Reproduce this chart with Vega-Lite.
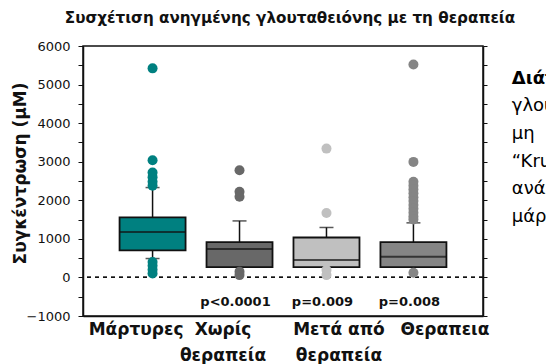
{
  "$schema": "https://vega.github.io/schema/vega-lite/v6.json",
  "autosize": {"type": "none"},
  "padding": {"left": 83, "top": 46, "right": 63, "bottom": 48},
  "width": 400,
  "height": 270,
  "background": "white",
  "config": {
    "font": "Liberation Sans",
    "view": {"stroke": "#111111", "strokeWidth": 1.5},
    "axis": {"domainColor": "#111111", "domainWidth": 1.5, "tickColor": "#111111", "grid": false, "labelColor": "#111111", "titleColor": "#111111"}
  },
  "title": {
    "text": "Συσχέτιση ανηγμένης γλουταθειόνης  με τη θεραπεία",
    "font": "DejaVu Sans",
    "fontSize": 15.2,
    "fontWeight": "bold",
    "color": "#111111",
    "anchor": "middle",
    "dx": 7,
    "offset": 14
  },
  "datasets": {
    "boxes": [
      {"group": "Μάρτυρες", "lower": 490, "q1": 700, "median": 1180, "q3": 1555, "upper": 2330, "p": ""},
      {"group": "Χωρίς θεραπεία", "lower": 265, "q1": 265, "median": 740, "q3": 915, "upper": 1465, "p": "p<0.0001"},
      {"group": "Μετά από θεραπεία", "lower": 265, "q1": 265, "median": 450, "q3": 1035, "upper": 1295, "p": "p=0.009"},
      {"group": "Θεραπεια", "lower": 265, "q1": 265, "median": 535, "q3": 915, "upper": 1415, "p": "p=0.008"}
    ],
    "outliers": [
      {"group": "Μάρτυρες", "value": 5420},
      {"group": "Μάρτυρες", "value": 3040},
      {"group": "Μάρτυρες", "value": 2720},
      {"group": "Μάρτυρες", "value": 2600},
      {"group": "Μάρτυρες", "value": 2480},
      {"group": "Μάρτυρες", "value": 2380},
      {"group": "Μάρτυρες", "value": 400},
      {"group": "Μάρτυρες", "value": 300},
      {"group": "Μάρτυρες", "value": 200},
      {"group": "Μάρτυρες", "value": 100},
      {"group": "Χωρίς θεραπεία", "value": 2780},
      {"group": "Χωρίς θεραπεία", "value": 2220},
      {"group": "Χωρίς θεραπεία", "value": 2090},
      {"group": "Χωρίς θεραπεία", "value": 150},
      {"group": "Χωρίς θεραπεία", "value": 60},
      {"group": "Μετά από θεραπεία", "value": 3340},
      {"group": "Μετά από θεραπεία", "value": 1670},
      {"group": "Μετά από θεραπεία", "value": 190},
      {"group": "Μετά από θεραπεία", "value": 60},
      {"group": "Θεραπεια", "value": 5520},
      {"group": "Θεραπεια", "value": 2995},
      {"group": "Θεραπεια", "value": 2480},
      {"group": "Θεραπεια", "value": 2380},
      {"group": "Θεραπεια", "value": 2280},
      {"group": "Θεραπεια", "value": 2180},
      {"group": "Θεραπεια", "value": 2080},
      {"group": "Θεραπεια", "value": 1980},
      {"group": "Θεραπεια", "value": 1880},
      {"group": "Θεραπεια", "value": 1780},
      {"group": "Θεραπεια", "value": 1680},
      {"group": "Θεραπεια", "value": 1580},
      {"group": "Θεραπεια", "value": 1500},
      {"group": "Θεραπεια", "value": 120}
    ],
    "notes": [
      {"line": 1, "text": "Διάγραμμα 2:"},
      {"line": 2, "text": "γλουταθειόνης"},
      {"line": 3, "text": "μη"},
      {"line": 4, "text": "“Kruskal-Wallis”"},
      {"line": 5, "text": "ανάλυση"},
      {"line": 6, "text": "μάρτυρες"}
    ]
  },
  "layer": [
    {
      "data": {"name": "boxes"},
      "layer": [
        {
          "mark": {"type": "rule", "color": "#111111", "strokeWidth": 1.5},
          "encoding": {
            "x": {"field": "group", "type": "nominal", "title": null,
              "scale": {"type": "point", "domain": ["Μάρτυρες", "Χωρίς θεραπεία", "Μετά από θεραπεία", "Θεραπεια"], "padding": 0.8},
              "axis": {
                "ticks": false,
                "labelAngle": 0,
                "labelFont": "DejaVu Sans",
                "labelFontSize": 17,
                "labelFontWeight": "bold",
                "labelLineHeight": 26,
                "labelPadding": 5,
                "labelBound": false,
                "labelOffset": {"condition": [
                  {"test": "datum.value == 'Μάρτυρες'", "value": -17},
                  {"test": "datum.value == 'Χωρίς θεραπεία'", "value": -17},
                  {"test": "datum.value == 'Μετά από θεραπεία'", "value": 12}
                ], "value": 31},
                "labelExpr": "datum.value == 'Χωρίς θεραπεία' ? ['Χωρίς', 'θεραπεία'] : datum.value == 'Μετά από θεραπεία' ? ['Μετά από', 'θεραπεία'] : datum.value"
              }
            },
            "y": {"field": "q3", "type": "quantitative", "axis": null,
              "scale": {"domain": [-1000, 6000], "nice": false, "zero": false}},
            "y2": {"field": "upper"}
          }
        },
        {
          "mark": {"type": "rule", "color": "#111111", "strokeDash": [4, 4], "strokeWidth": 1.2},
          "encoding": {
            "y": {"datum": 0, "type": "quantitative", "axis": null}
          }
        },
        {
          "mark": {"type": "rule", "color": "#111111", "strokeWidth": 1.5},
          "encoding": {
            "x": {"field": "group", "type": "nominal", "title": null},
            "y": {"field": "lower", "type": "quantitative", "axis": null},
            "y2": {"field": "q1"}
          }
        },
        {
          "mark": {"type": "tick", "color": "#111111", "size": 14, "thickness": 1.5},
          "encoding": {
            "x": {"field": "group", "type": "nominal", "title": null},
            "y": {"field": "upper", "type": "quantitative", "axis": null}
          }
        },
        {
          "mark": {"type": "tick", "color": "#111111", "size": 14, "thickness": 1.5},
          "encoding": {
            "x": {"field": "group", "type": "nominal", "title": null},
            "y": {"field": "lower", "type": "quantitative", "axis": null}
          }
        },
        {
          "mark": {"type": "bar", "size": 66, "stroke": "#111111", "strokeWidth": 1.8, "opacity": 1},
          "encoding": {
            "x": {"field": "group", "type": "nominal", "title": null},
            "y": {"field": "q1", "type": "quantitative", "axis": null},
            "y2": {"field": "q3"},
            "color": {"field": "group", "type": "nominal", "legend": null,
              "scale": {"domain": ["Μάρτυρες", "Χωρίς θεραπεία", "Μετά από θεραπεία", "Θεραπεια"], "range": ["#008080", "#686868", "#c0c0c0", "#858585"]}}
          }
        },
        {
          "mark": {"type": "tick", "color": "#111111", "size": 66, "thickness": 2},
          "encoding": {
            "x": {"field": "group", "type": "nominal", "title": null},
            "y": {"field": "median", "type": "quantitative", "axis": null}
          }
        },
        {
          "transform": [{"filter": "datum.p != ''"}],
          "mark": {"type": "text", "font": "DejaVu Sans", "fontSize": 13, "fontWeight": "bold", "color": "#111111", "baseline": "middle", "dx": -4},
          "encoding": {
            "x": {"field": "group", "type": "nominal", "title": null},
            "y": {"datum": -640, "type": "quantitative", "axis": null},
            "text": {"field": "p"}
          }
        },
        {
          "data": {"name": "outliers"},
          "mark": {"type": "point", "filled": true, "shape": "circle", "size": 100, "opacity": 1},
          "encoding": {
            "x": {"field": "group", "type": "nominal", "title": null},
            "y": {"field": "value", "type": "quantitative", "axis": null},
            "color": {"field": "group", "type": "nominal", "legend": null}
          }
        }
      ]
    },
    {
      "data": {"name": "boxes"},
      "mark": {"type": "tick", "opacity": 0},
      "encoding": {
        "y": {"field": "median", "type": "quantitative", "title": "Συγκέντρωση (μΜ)",
          "scale": {"domain": [-1000, 6000], "nice": false, "zero": false},
          "axis": {
            "orient": "left",
            "values": [-1000, 0, 1000, 2000, 3000, 4000, 5000, 6000],
            "labelOverlap": false,
            "labelBound": false,
            "labelFlush": false,
            "format": "d",
            "labelFont": "DejaVu Sans",
            "labelFontSize": 13,
            "tickSize": 5,
            "labelPadding": 8,
            "titleFont": "DejaVu Sans",
            "titleFontSize": 17,
            "titleFontWeight": "bold",
            "titleX": -63,
            "titleY": 127,
            "titleAngle": 270,
            "titleAlign": "center",
            "titleBaseline": "middle"
          }
        }
      }
    },
    {
      "data": {"name": "boxes"},
      "mark": {"type": "tick", "opacity": 0},
      "encoding": {
        "y": {"field": "median", "type": "quantitative", "title": null,
          "scale": {"domain": [-1000, 6000], "nice": false, "zero": false},
          "axis": {
            "orient": "left",
            "labels": false,
            "domain": false,
            "values": [-500, 500, 1500, 2500, 3500, 4500, 5500],
            "tickSize": 5
          }
        }
      }
    },
    {
      "data": {"name": "boxes"},
      "mark": {"type": "tick", "opacity": 0},
      "encoding": {
        "y": {"field": "median", "type": "quantitative", "title": null,
          "scale": {"domain": [-1000, 6000], "nice": false, "zero": false},
          "axis": {
            "orient": "right",
            "labels": false,
            "values": [-1000, -500, 0, 500, 1000, 1500, 2000, 2500, 3000, 3500, 4000, 4500, 5000, 5500, 6000],
            "tickSize": 4
          }
        }
      }
    },
    {
      "data": {"name": "notes"},
      "transform": [{"filter": "datum.line == 1"}],
      "mark": {"type": "text", "align": "left", "baseline": "alphabetic", "font": "DejaVu Sans", "fontSize": 18, "fontWeight": "bold", "color": "#000000"},
      "encoding": {
        "x": {"datum": 1.072, "type": "quantitative", "scale": {"domain": [0, 1], "nice": false, "zero": false}, "axis": null},
        "y": {"field": "line", "type": "quantitative", "scale": {"domain": [-0.357, 9.39], "reverse": true, "nice": false, "zero": false}, "axis": null},
        "text": {"field": "text"}
      }
    },
    {
      "data": {"name": "notes"},
      "transform": [{"filter": "datum.line > 1"}],
      "mark": {"type": "text", "align": "left", "baseline": "alphabetic", "font": "DejaVu Sans", "fontSize": 18, "color": "#000000"},
      "encoding": {
        "x": {"datum": 1.072, "type": "quantitative", "scale": {"domain": [0, 1], "nice": false, "zero": false}, "axis": null},
        "y": {"field": "line", "type": "quantitative", "scale": {"domain": [-0.357, 9.39], "reverse": true, "nice": false, "zero": false}, "axis": null},
        "text": {"field": "text"}
      }
    }
  ],
  "resolve": {"scale": {"x": "independent", "y": "independent"}, "axis": {"y": "independent", "x": "independent"}}
}
